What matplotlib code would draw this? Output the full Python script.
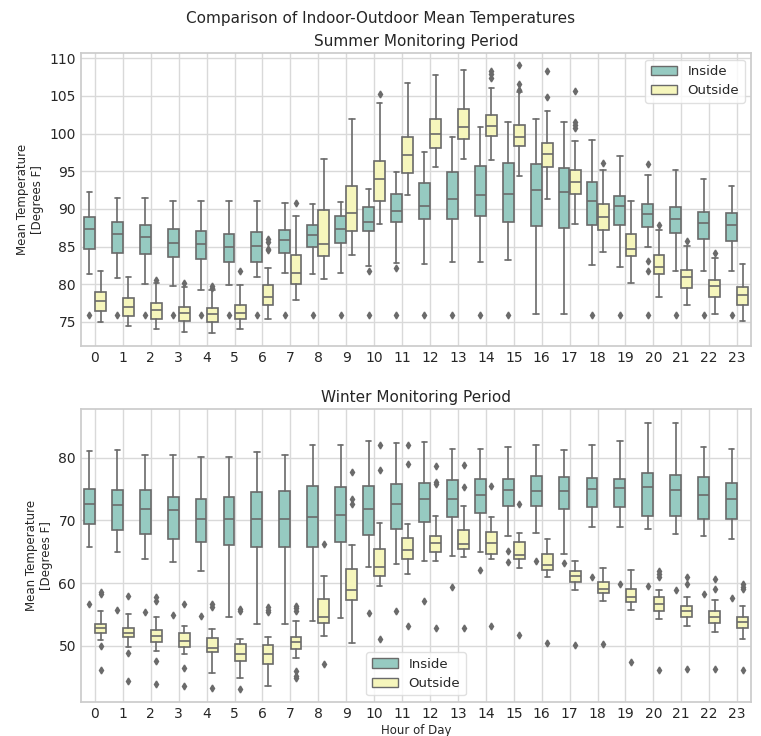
import matplotlib
matplotlib.use('Agg')
import matplotlib.pyplot as plt
from matplotlib.patches import Patch
import seaborn as sns

hours = list(range(24))
series = ['Inside', 'Outside']

# summer, inside: whisker top, q3, median, q1, whisker bottom, fliers
sum_in_hi = [92.2, 91.4, 91.4, 91.0, 91.0, 91.0, 91.0, 90.8, 90.7, 90.9, 92.7, 94.9,
             97.5, 99.6, 100.9, 101.6, 102.0, 101.6, 99.1, 97.0, 94.5, 95.2, 94.0, 93.1]
sum_in_q3 = [88.9, 88.3, 87.9, 87.3, 87.0, 86.7, 86.9, 87.2, 87.8, 89.0, 90.3, 92.0,
             93.5, 94.9, 95.7, 96.1, 95.9, 95.4, 93.6, 91.7, 90.7, 90.2, 89.6, 89.4]
sum_in_med = [87.3, 86.7, 86.2, 85.5, 85.3, 84.9, 85.1, 85.8, 86.5, 87.3, 88.3, 89.7,
              90.4, 91.3, 91.8, 92.0, 92.5, 92.3, 91.1, 90.4, 89.3, 88.6, 88.1, 87.9]
sum_in_q1 = [84.7, 84.1, 84.0, 83.6, 83.3, 82.9, 82.9, 84.1, 85.0, 85.5, 87.0, 88.2,
             88.7, 88.7, 89.0, 88.2, 87.7, 87.5, 87.9, 87.9, 87.6, 86.8, 86.0, 85.7]
sum_in_lo = [81.4, 80.8, 80.0, 79.8, 79.2, 79.9, 80.9, 81.5, 81.4, 81.5, 82.4, 82.8,
             82.7, 82.9, 83.0, 83.2, 76.0, 76.0, 82.6, 82.3, 84.9, 81.7, 81.8, 81.7]
sum_in_fl = [[75.9]] * 10 + [[81.8, 75.9], [82.1, 75.9]] + [[75.9]] * 4 + [[], []] + \
            [[75.9], [75.9], [96.0, 83.1, 81.8, 75.9], [75.9], [75.9], [75.9]]

# summer, outside
sum_out_hi = [81.8, 81.0, 80.1, 79.6, 79.2, 79.9, 82.1, 89.0, 96.6, 102.0, 104.1, 106.7,
              107.8, 108.5, 106.0, 105.5, 103.0, 99.0, 95.1, 91.0, 87.2, 85.1, 83.5, 82.7]
sum_out_q3 = [78.9, 78.2, 77.5, 77.0, 76.8, 77.2, 79.9, 83.9, 89.8, 93.1, 96.3, 99.5,
              102.0, 103.3, 102.5, 101.2, 98.8, 95.2, 90.6, 86.7, 83.9, 81.9, 80.6, 79.6]
sum_out_med = [77.8, 77.0, 76.6, 76.2, 76.0, 76.2, 78.3, 81.5, 85.4, 89.5, 94.0, 97.2,
               99.9, 100.9, 101.0, 99.6, 97.3, 93.6, 88.9, 84.7, 82.3, 80.9, 79.7, 78.6]
sum_out_q1 = [76.5, 75.8, 75.4, 75.1, 75.0, 75.4, 77.2, 80.0, 83.7, 87.0, 91.1, 94.7,
              98.1, 99.3, 99.7, 98.4, 95.6, 92.0, 87.2, 83.8, 81.3, 79.5, 78.3, 77.3]
sum_out_lo = [75.0, 74.5, 74.0, 73.7, 73.5, 74.1, 75.4, 77.9, 80.7, 83.9, 88.0, 91.8,
              95.5, 96.6, 96.5, 94.3, 91.3, 88.0, 84.3, 80.2, 78.3, 77.2, 76.1, 75.1]
sum_out_fl = [[], [], [80.6], [80.1], [79.8, 79.5], [81.8], [86.0, 85.6, 84.7, 84.5],
              [90.8], [], [], [105.2], [], [], [], [108.3, 107.9, 107.4],
              [109.1, 106.6, 105.8], [108.3, 104.8], [105.7, 101.6, 101.1, 100.7],
              [96.1], [], [87.8], [85.7], [84.1], []]

# winter, inside
win_in_hi = [81.1, 81.2, 80.5, 80.4, 80.2, 80.1, 80.9, 80.4, 82.0, 82.1, 82.7, 82.4,
             82.6, 81.4, 81.4, 81.8, 82.0, 81.2, 82.1, 82.7, 85.6, 85.5, 81.8, 81.5]
win_in_q3 = [75.1, 74.9, 74.9, 73.7, 73.4, 73.7, 74.5, 74.7, 75.5, 75.4, 75.5, 75.9,
             76.0, 76.4, 76.7, 76.7, 77.1, 77.0, 76.8, 76.7, 77.6, 77.3, 76.9, 76.0]
win_in_med = [72.7, 72.4, 71.9, 71.6, 70.2, 70.2, 70.3, 70.3, 70.6, 70.8, 71.9, 72.7,
              73.4, 73.4, 74.1, 74.8, 74.7, 74.7, 75.1, 75.2, 75.4, 74.8, 74.1, 73.5]
win_in_q1 = [69.5, 68.4, 67.9, 67.0, 66.5, 66.1, 65.8, 65.8, 65.8, 66.5, 67.7, 68.7,
             69.8, 70.6, 71.2, 72.3, 72.3, 71.9, 72.1, 72.1, 70.7, 70.7, 70.2, 70.2]
win_in_lo = [65.8, 64.9, 63.9, 63.4, 61.9, 54.6, 53.5, 53.5, 53.9, 54.4, 62.6, 63.0,
             63.6, 64.4, 64.9, 67.5, 68.0, 64.6, 69.0, 68.9, 68.6, 67.9, 67.6, 67.1]
win_in_fl = [[56.6], [55.7], [55.4], [54.9], [54.7], [], [], [], [], [], [55.2], [55.5],
             [57.2], [59.4], [62.1], [65.1, 63.3], [63.6], [63.2], [61.0], [59.8],
             [59.5], [58.9], [58.2], [57.6]]

# winter, outside
win_out_hi = [55.6, 55.0, 54.5, 53.2, 52.7, 51.0, 51.4, 54.0, 61.2, 66.1, 69.6, 69.4,
              70.7, 72.3, 70.6, 68.0, 67.1, 63.6, 62.4, 62.1, 58.9, 57.8, 57.3, 56.3]
win_out_q3 = [53.5, 52.9, 52.5, 52.0, 51.2, 50.2, 50.1, 51.4, 57.5, 62.3, 65.4, 67.2,
              67.5, 68.5, 68.1, 66.5, 64.6, 62.0, 60.1, 59.0, 57.7, 56.3, 55.6, 54.5]
win_out_med = [52.9, 52.1, 51.5, 50.8, 49.7, 48.7, 48.7, 50.6, 54.6, 58.9, 62.6, 65.3,
               66.4, 66.3, 66.4, 64.5, 62.9, 61.2, 59.1, 57.8, 56.7, 55.5, 54.6, 53.8]
win_out_q1 = [52.1, 51.4, 50.6, 49.8, 49.0, 47.5, 47.0, 49.5, 53.6, 57.3, 61.2, 63.8,
              64.9, 65.5, 64.7, 63.9, 62.1, 60.2, 58.4, 56.9, 55.6, 54.5, 53.7, 52.9]
win_out_lo = [50.9, 49.8, 49.1, 48.6, 45.7, 44.9, 43.6, 48.1, 51.6, 50.4, 59.5, 61.5,
              63.6, 64.2, 63.8, 62.4, 60.9, 58.9, 57.2, 55.7, 54.3, 53.1, 52.2, 51.0]
win_out_fl = [[58.5, 58.2, 49.9, 46.1], [57.9, 48.8, 44.3], [57.7, 57.2, 47.6, 43.9],
              [56.6, 46.5, 43.6], [56.6, 56.1, 43.3], [55.9, 55.5, 43.0],
              [56.2, 55.7, 55.3], [56.3, 56.0, 55.6, 46.0, 45.2, 44.8], [66.3, 47.1],
              [77.8, 73.4, 72.6], [82.1, 78.1, 51.1], [82.1, 79.1, 53.1],
              [78.7, 76.2, 75.8, 52.8], [78.8, 75.3, 52.8], [75.5, 53.1], [72.7, 51.7],
              [50.5], [50.1], [50.3], [47.4], [62.0, 61.5, 61.0, 46.1], [61.0, 59.9, 46.3],
              [60.7, 59.1, 46.3], [59.8, 59.4, 59.0, 46.1]]

pal = [sns.desaturate(c, 0.75) for c in sns.color_palette('Set3', 2)]
gray = '#6a6a6a'


def make_stats(hi, q3, med, q1, lo, fl):
    return [dict(whishi=hi[i], q3=q3[i], med=med[i], q1=q1[i], whislo=lo[i], fliers=fl[i])
            for i in range(len(hi))]


def draw_panel(ax, inside, outside, title, ylim, yticks, legend_loc):
    for k, (st, off) in enumerate([(inside, -0.2), (outside, 0.2)]):
        ax.bxp(st, positions=[h + off for h in hours], widths=0.39, patch_artist=True,
               manage_ticks=False,
               boxprops=dict(facecolor=pal[k], edgecolor=gray, linewidth=1.2),
               medianprops=dict(color=gray, linewidth=1.2),
               whiskerprops=dict(color=gray, linewidth=1.2),
               capprops=dict(color=gray, linewidth=1.2),
               flierprops=dict(marker='d', markersize=3.5, markerfacecolor=gray,
                               markeredgecolor=gray, linestyle='none'))
    ax.set_xticks(hours)
    ax.set_xticklabels([str(h) for h in hours])
    ax.set_xlim(-0.5, 23.5)
    ax.set_ylim(*ylim)
    ax.set_yticks(yticks)
    ax.set_title(title, fontsize=11, color='.15', pad=5)
    ax.set_ylabel('Mean Temperature\n[Degrees F]', fontsize=8.5, color='.15')
    ax.tick_params(labelsize=10, colors='.15', length=0)
    ax.grid(True, color='.85', linewidth=1)
    ax.set_axisbelow(True)
    for s in ax.spines.values():
        s.set_color('.8')
        s.set_linewidth(1.25)
    handles = [Patch(facecolor=pal[i], edgecolor=gray, label=series[i]) for i in range(2)]
    ax.legend(handles=handles, loc=legend_loc, fontsize=9.5, frameon=True,
              facecolor='white', edgecolor='.85', framealpha=0.8)


plt.style.use('seaborn-v0_8-whitegrid')
plt.rcParams['font.family'] = ['DejaVu Sans']
fig = plt.figure(figsize=(7.61, 7.36), dpi=100)
ax1 = fig.add_axes([0.1064, 0.530, 0.8806, 0.398])
ax2 = fig.add_axes([0.1064, 0.0462, 0.8806, 0.398])

draw_panel(ax1, make_stats(sum_in_hi, sum_in_q3, sum_in_med, sum_in_q1, sum_in_lo, sum_in_fl),
           make_stats(sum_out_hi, sum_out_q3, sum_out_med, sum_out_q1, sum_out_lo, sum_out_fl),
           'Summer Monitoring Period', (71.8, 110.7), range(75, 111, 5), 'upper right')
draw_panel(ax2, make_stats(win_in_hi, win_in_q3, win_in_med, win_in_q1, win_in_lo, win_in_fl),
           make_stats(win_out_hi, win_out_q3, win_out_med, win_out_q1, win_out_lo, win_out_fl),
           'Winter Monitoring Period', (41.0, 87.8), [50, 60, 70, 80], 'lower center')
ax2.set_xlabel('Hour of Day', fontsize=8.5, color='.15', labelpad=2)

fig.suptitle('Comparison of Indoor-Outdoor Mean Temperatures', fontsize=11, color='.15', y=0.985)
fig.savefig('out.png', dpi=100)
